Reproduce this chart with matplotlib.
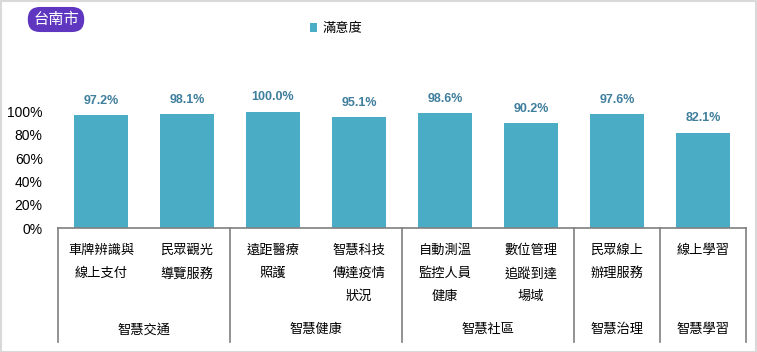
import matplotlib
matplotlib.use("Agg")
import matplotlib.pyplot as plt
from matplotlib.patches import Rectangle, Patch
from matplotlib.transforms import blended_transform_factory

plt.rcParams['font.family'] = ['Liberation Sans', 'Noto Sans CJK TC', 'DejaVu Sans']

title = "台南市"
series_name = "滿意度"
items = ["車牌辨識與\n線上支付", "民眾觀光\n導覽服務", "遠距醫療\n照護", "智慧科技\n傳達疫情\n狀況",
         "自動測溫\n監控人員\n健康", "數位管理\n追蹤到達\n場域", "民眾線上\n辦理服務", "線上學習"]
values = [97.2, 98.1, 100.0, 95.1, 98.6, 90.2, 97.6, 82.1]
groups = ["智慧交通", "智慧健康", "智慧社區", "智慧治理", "智慧學習"]
group_sizes = [2, 2, 2, 1, 1]
yticks = [0, 20, 40, 60, 80, 100]

W, H = 757, 352
fig = plt.figure(figsize=(W / 100, H / 100), dpi=100)
bar_color = '#4BACC6'

# axes placement in pixels
x0, x1 = 58, 746
yb, yt = 228, 80
ax = fig.add_axes([x0 / W, (H - yb) / H, (x1 - x0) / W, (yb - yt) / H])
ymax = (yb - yt) / ((228 - 111.7) / 100)
ax.set_ylim(0, ymax)
ax.set_xlim(-0.5, len(values) - 0.5)

xs = list(range(len(values)))
bars = ax.bar(xs, values, width=0.63, color=bar_color, label=series_name, zorder=2)
for x, v in zip(xs, values):
    ax.annotate(f"{v:.1f}%", (x, v), xytext=(0, 6), textcoords='offset points',
                ha='center', va='bottom', fontsize=9, fontweight='bold', color='#3F7E9C')

for s in ['top', 'right', 'left']:
    ax.spines[s].set_visible(False)
ax.spines['bottom'].set_color('#7f7f7f')
ax.spines['bottom'].set_linewidth(1.2)
ax.set_yticks(yticks)
ax.set_yticklabels([f"{t}%" for t in yticks], fontsize=10, color='#000000')
ax.tick_params(axis='y', length=0, pad=11)
ax.set_xticks([])

trans = blended_transform_factory(ax.transData, ax.transAxes)
px = 1.0 / (yb - yt)  # axes fraction per pixel

# separators
bounds = [0]
for g in group_sizes:
    bounds.append(bounds[-1] + g)
for b in bounds:
    ax.plot([b - 0.5, b - 0.5], [0, -(342 - yb) * px], transform=trans, color='#7f7f7f',
            lw=1.2, clip_on=False)

# item labels
for x, lab in zip(xs, items):
    for i, line in enumerate(lab.split("\n")):
        ax.text(x, -(251 - yb + i * 23) * px, line, transform=trans, ha='center', va='center',
                fontsize=9.5, color='#000000')

# group labels
for g, lab in enumerate(groups):
    c = (bounds[g] + bounds[g + 1]) / 2 - 0.5
    ax.text(c, -(330 - yb) * px, lab, transform=trans, ha='center', va='center',
            fontsize=9.5, color='#000000')

# legend
fig.legend(handles=[Patch(facecolor=bar_color, label=series_name)], loc='center',
           bbox_to_anchor=(336 / W, 1 - 29 / H), frameon=False, handlelength=0.6,
           handleheight=0.6, handletextpad=0.4, fontsize=9.5)

# title badge
fig.text(56 / W, 1 - 19.5 / H, title, ha='center', va='center', color='white', fontsize=11,
         bbox=dict(boxstyle='round,pad=0.35,rounding_size=0.8', fc='#5E36BF', ec='none'))

# figure border
fig.patches.append(Rectangle((0.5 / W, 0.5 / H), 1 - 1.5 / W, 1 - 1.5 / H, transform=fig.transFigure,
                             fill=False, ec='#d9d9d9', lw=1.5))

fig.savefig("out.png", dpi=100)
